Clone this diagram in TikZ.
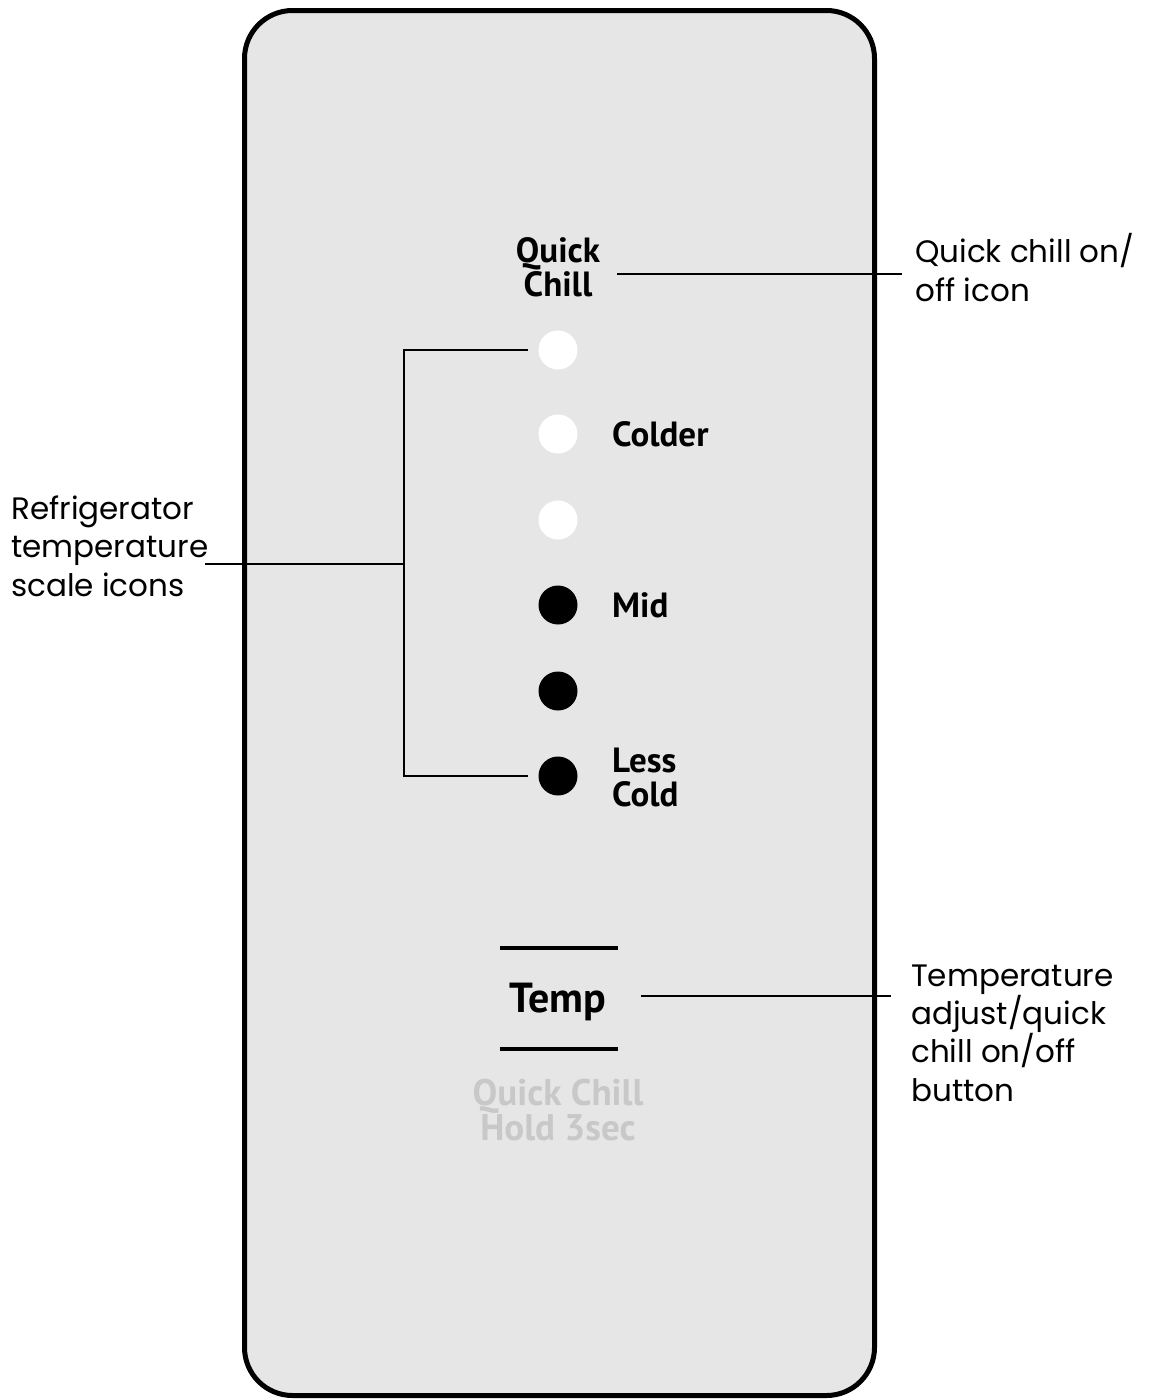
\documentclass[tikz,border=0pt]{standalone}
\usepackage{fontspec}
\setmainfont{Poppins}
\newfontfamily\panelfont{PT Sans}
\definecolor{panelbg}{HTML}{E6E6E6}
\definecolor{faint}{HTML}{C8C8C8}
\begin{document}
\begin{tikzpicture}[x=1pt,y=-1pt,
  lbl/.style={inner sep=0pt, align=left, font=\fontsize{31}{38.3}\selectfont},
  ptxt/.style={inner sep=0pt, font=\panelfont\bfseries\fontsize{35}{34}\selectfont},
  dotw/.style={circle, fill=white, minimum size=39pt, inner sep=0pt},
  dotb/.style={circle, fill=black, minimum size=39pt, inner sep=0pt},
  conn/.style={line width=2pt, black},
  barline/.style={line width=4pt, black}]
\useasboundingbox (0,0) rectangle (1160,1400);
\fill[white] (0,0) rectangle (1160,1400);
% panel
\draw[line width=5pt, fill=panelbg, rounded corners=48pt] (244.5,10.5) rectangle (874.5,1395.5);
% panel texts (base anchor = last line baseline)
\node[ptxt, align=center, anchor=base] (qc) at (558,296) {Quick\\Chill};
\node[ptxt, anchor=base west] (colder) at (612,446) {Colder};
\node[ptxt, anchor=base west] (mid) at (612,617) {Mid};
\node[ptxt, align=left, anchor=base west] (less) at (612,806) {Less\\Cold};
% dots
\node[dotw] (d1) at (558,350) {};
\node[dotw] (d2) at (558,434) {};
\node[dotw] (d3) at (558,520) {};
\node[dotb] (d4) at (558,605) {};
\node[dotb] (d5) at (558,691) {};
\node[dotb] (d6) at (558,776) {};
% temp button
\draw[barline] (500,948) -- (618,948);
\draw[barline] (500,1049) -- (618,1049);
\node[inner sep=0pt, anchor=base, font=\panelfont\bfseries\fontsize{42}{42}\selectfont] (temp) at (558,1012) {Temp};
\node[inner sep=0pt, align=center, anchor=base, text=faint, font=\panelfont\bfseries\fontsize{37}{35}\selectfont] (hold) at (558,1140) {Quick Chill\\Hold 3sec};
% labels
\node[lbl, anchor=base west] (lq) at (915,301) {Quick chill on/\\off icon};
\node[lbl, anchor=base west] (lr) at (11,596) {Refrigerator\\temperature\\scale icons};
\node[lbl, anchor=base west] (lt) at (911,1101) {Temperature\\adjust/quick\\chill on/off\\button};
% connectors
\coordinate (qa) at (617,274);
\coordinate (qb) at (902,274);
\draw[conn] (qa) -- (qb);
\coordinate (bk) at (404,564);
\coordinate (ra) at (205,564);
\draw[conn] ([xshift=-10pt]d1.west) -| (bk);
\draw[conn] ([xshift=-10pt]d6.west) -| (bk);
\draw[conn] (bk) -- (ra);
\coordinate (ta) at (641,996);
\coordinate (tb) at (891,996);
\draw[conn] (ta) -- (tb);
\end{tikzpicture}
\end{document}
